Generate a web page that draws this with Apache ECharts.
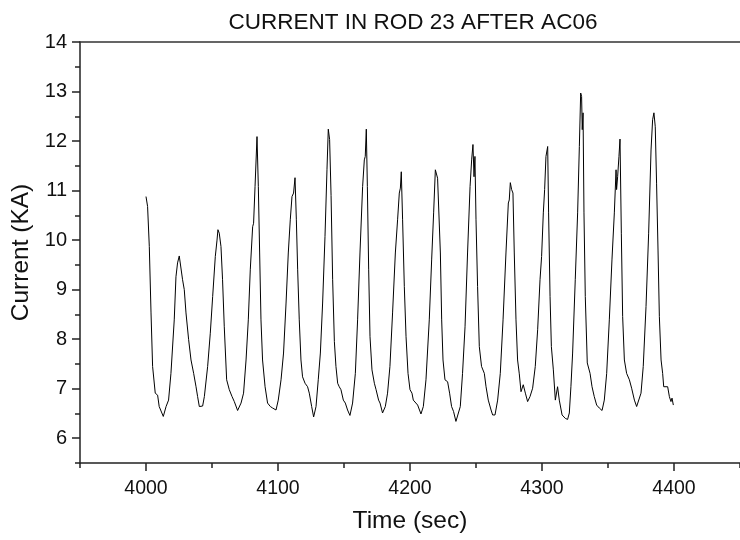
<!DOCTYPE html>
<html>
<head>
<meta charset="utf-8">
<script src="https://cdn.jsdelivr.net/npm/echarts@6/dist/echarts.min.js"></script>
<style>
  html, body { margin: 0; padding: 0; background: #fff; }
  #main { width: 740px; height: 540px; }
</style>
</head>
<body>
<div id="main"></div>
<script>
// time in seconds
const timeSec = [
  4000, 4001.2, 4002.5, 4003.8, 4005, 4007, 4008.8, 4010, 4013.1, 4015.2,
  4017.1, 4018.9, 4021.4, 4022.7, 4023.9, 4025.2, 4026.5, 4027.7, 4029, 4030.3,
  4032.3, 4034.1, 4036.1, 4037.9, 4039.1, 4040.4, 4042.9, 4044.2, 4046.7, 4048.7,
  4050.5, 4052.5, 4053.8, 4054.5, 4055.5, 4056.8, 4058, 4059.3, 4061.1, 4063.1,
  4065.2, 4066.9, 4069.4, 4072, 4073.9, 4075.8, 4077.5, 4079, 4080.8, 4081.5,
  4082.6, 4084.1, 4085.1, 4086.1, 4087.1, 4088.3, 4090.2, 4092.1, 4094.2, 4095.9,
  4098.5, 4100.2, 4102.3, 4104.2, 4106.1, 4107.8, 4109.3, 4110.6, 4111.8, 4112.9,
  4113.9, 4114.9, 4116.1, 4117.4, 4118.6, 4120.5, 4122.4, 4123.7, 4125.5, 4127,
  4128.8, 4130.5, 4132.1, 4133.8, 4135.6, 4137.1, 4138.1, 4139.1, 4140.2, 4141.4,
  4142.7, 4143.9, 4145.2, 4146.4, 4147.7, 4149.5, 4151, 4152.7, 4154.5, 4156.5,
  4158.6, 4160.3, 4162.1, 4164.1, 4165.4, 4166.1, 4166.9, 4167.7, 4168.7, 4169.7,
  4171.2, 4173, 4174.3, 4176.2, 4177.3, 4179.2, 4181.3, 4183, 4184.8, 4186.8,
  4188.9, 4190.6, 4191.9, 4192.7, 4193.4, 4194.4, 4195.7, 4197, 4198.5, 4200,
  4201.5, 4202.5, 4204, 4205.8, 4208.3, 4210.1, 4212.1, 4214.6, 4216.4, 4217.9,
  4219.2, 4219.9, 4220.9, 4222.2, 4223, 4224, 4225, 4226.5, 4228.5, 4230,
  4231.5, 4233, 4234.8, 4236.1, 4238.1, 4239.8, 4241.7, 4243.6, 4245.5, 4246.7,
  4247.7, 4248.5, 4249.2, 4250, 4251.2, 4252.5, 4254.2, 4256.3, 4257.6, 4259.3,
  4261.4, 4262.6, 4264.4, 4266.4, 4268.4, 4270.5, 4272.7, 4274.5, 4275.2, 4276,
  4277, 4278, 4279, 4280.3, 4281.5, 4282.8, 4284.1, 4285.8, 4287.4, 4289.1,
  4290.9, 4292.9, 4294.9, 4296.7, 4298.5, 4299.7, 4301, 4302, 4303, 4304.3,
  4305, 4306.1, 4307.1, 4308.6, 4310.1, 4311.8, 4313.1, 4315.2, 4317.7, 4319.4,
  4320.7, 4321.9, 4323.2, 4325.2, 4327, 4328.3, 4329.3, 4330, 4330.5, 4331.1,
  4331.8, 4332.8, 4334.3, 4336.4, 4337.9, 4339.6, 4341.4, 4343.4, 4345.5, 4347.2,
  4349, 4351, 4353, 4354.8, 4356.1, 4356.5, 4357.3, 4358.3, 4359.1, 4360.1,
  4361.1, 4362.4, 4364.1, 4366.2, 4367.9, 4370, 4371.7, 4373.2, 4375, 4376.7,
  4378.8, 4380.8, 4382.6, 4383.8, 4384.8, 4385.8, 4386.8, 4387.9, 4388.9, 4390.2,
  4391.4, 4392.2, 4393.4, 4395.2, 4396.5, 4397.7, 4398.5, 4399.5
];

// current in KA
const currentKA = [
  10.88, 10.68, 9.87, 8.53, 7.45, 6.91, 6.87, 6.64, 6.44, 6.64,
  6.77, 7.31, 8.39, 9.26, 9.54, 9.68, 9.67, 9.2, 9.0, 8.53,
  7.99, 7.58, 7.31, 7.04, 6.84, 6.64, 6.65, 6.84, 7.45, 8.12,
  8.86, 9.67, 10.0, 10.21, 10.14, 9.87, 9.2, 8.25, 7.18, 6.98,
  6.84, 6.74, 6.56, 6.71, 6.91, 7.58, 8.39, 9.4, 10.27, 10.34,
  11.08, 12.09, 11.08, 9.74, 8.39, 7.58, 7.04, 6.71, 6.64, 6.61,
  6.57, 6.77, 7.18, 7.72, 8.73, 9.74, 10.41, 10.88, 10.95, 11.26,
  10.41, 9.4, 8.39, 7.58, 7.24, 7.11, 7.04, 6.91, 6.64, 6.43,
  6.64, 7.18, 7.72, 8.73, 10.07, 11.42, 12.24, 12.03, 10.9, 9.2,
  7.95, 7.45, 7.11, 7.04, 6.98, 6.77, 6.71, 6.57, 6.46, 6.71,
  7.31, 8.39, 9.74, 11.08, 11.62, 11.69, 12.24, 11.08, 9.4, 8.05,
  7.38, 7.11, 6.98, 6.77, 6.71, 6.51, 6.64, 6.91, 7.45, 8.53,
  9.74, 10.41, 10.95, 11.05, 11.38, 10.41, 9.06, 8.05, 7.31, 6.98,
  6.91, 6.77, 6.81, 6.67, 6.49, 6.64, 7.18, 8.39, 9.6, 10.55,
  11.42, 11.45, 11.25, 11.25, 9.74, 8.39, 7.58, 7.18, 7.14, 6.91,
  6.64, 6.54, 6.34, 6.37, 6.64, 7.31, 8.25, 9.74, 11.08, 11.62,
  11.93, 11.28, 11.69, 10.41, 9.06, 7.85, 7.45, 7.31, 7.04, 6.77,
  6.57, 6.47, 6.47, 6.77, 7.31, 8.39, 9.74, 10.75, 10.81, 11.16,
  11.02, 10.95, 9.74, 8.39, 7.58, 7.3, 6.94, 7.08, 6.91, 6.74,
  6.84, 7.01, 7.45, 8.19, 9.2, 9.67, 10.55, 11.02, 11.69, 11.89,
  10.55, 8.86, 7.85, 7.38, 6.77, 7.04, 6.77, 6.47, 6.4, 6.38,
  6.51, 7.04, 7.72, 9.2, 10.55, 11.89, 12.97, 12.9, 12.23, 12.57,
  10.55, 8.86, 7.52, 7.31, 7.04, 6.84, 6.67, 6.61, 6.56, 6.77,
  7.31, 8.39, 9.6, 10.55, 11.42, 11.02, 11.28, 11.69, 12.04, 10.14,
  8.46, 7.58, 7.31, 7.18, 7.01, 6.77, 6.64, 6.61, 6.91, 7.45,
  8.66, 10.14, 11.82, 12.43, 12.57, 12.29, 11.15, 9.8, 8.46, 7.58,
  7.31, 7.04, 7.08, 7.04, 6.84, 6.74, 6.81, 6.67
];

const xTicks = [4000, 4100, 4200, 4300, 4400];
const xMinorTicks = [3950, 4050, 4150, 4250, 4350, 4450];
const yTicks = [6, 7, 8, 9, 10, 11, 12, 13, 14];
const yMinorTicks = [5.5, 6.5, 7.5, 8.5, 9.5, 10.5, 11.5, 12.5, 13.5];

const n = Math.min(timeSec.length, currentKA.length);
const points = [];
for (let i = 0; i < n; i++) {
  points.push([timeSec[i], currentKA[i]]);
}

const font = 'Liberation Sans, Arial, sans-serif';
const axisColor = '#222';

const chart = echarts.init(document.getElementById('main'), null, { renderer: 'canvas' });

const option = {
  animation: false,
  backgroundColor: '#fff',
  title: {
    text: 'CURRENT IN ROD 23 AFTER AC06',
    left: 408,
    top: 6,
    textAlign: 'center',
    textStyle: {
      fontFamily: font,
      fontSize: 22.5,
      fontWeight: 'normal',
      color: '#111',
    },
  },
  grid: {
    left: 80,
    right: 0,
    top: 42,
    bottom: 77,
  },
  xAxis: [
    {
      type: 'value',
      position: 'bottom',
      min: 3950,
      max: 4450,
      name: 'Time (sec)',
      nameLocation: 'middle',
      nameGap: 46,
      nameTextStyle: { fontFamily: font, fontSize: 24.5, color: '#111' },
      axisLine: { onZero: false, lineStyle: { color: axisColor, width: 1.5 } },
      axisTick: { customValues: xTicks, length: 8, lineStyle: { color: axisColor, width: 1.5 } },
      axisLabel: {
        customValues: xTicks,
        formatter: (v) => String(v),
        margin: 16,
        fontFamily: font,
        fontSize: 19.5,
        color: '#111',
      },
      splitLine: { show: false },
    },
    {
      type: 'value',
      position: 'bottom',
      min: 3950,
      max: 4450,
      axisLine: { show: false, onZero: false },
      axisTick: { customValues: xMinorTicks, length: 5, lineStyle: { color: axisColor, width: 1.5 } },
      axisLabel: { show: false },
      splitLine: { show: false },
    },
    {
      type: 'value',
      position: 'top',
      min: 3950,
      max: 4450,
      axisLine: { onZero: false, lineStyle: { color: '#333', width: 1.5 } },
      axisTick: { show: false },
      axisLabel: { show: false },
      splitLine: { show: false },
    },
  ],
  yAxis: [
    {
      type: 'value',
      position: 'left',
      min: 5.5,
      max: 14,
      name: 'Current (KA)',
      nameLocation: 'middle',
      nameGap: 44,
      nameTextStyle: { fontFamily: font, fontSize: 24.5, color: '#111' },
      axisLine: { show: true, onZero: false, lineStyle: { color: axisColor, width: 1.5 } },
      axisTick: { show: true, customValues: yTicks, length: 8, lineStyle: { color: axisColor, width: 1.5 } },
      axisLabel: {
        customValues: yTicks,
        formatter: (v) => String(v),
        margin: 13,
        fontFamily: font,
        fontSize: 20,
        color: '#111',
      },
      splitLine: { show: false },
    },
    {
      type: 'value',
      position: 'left',
      min: 5.5,
      max: 14,
      axisLine: { show: false, onZero: false },
      axisTick: { show: true, customValues: yMinorTicks, length: 5, lineStyle: { color: axisColor, width: 1.5 } },
      axisLabel: { show: false },
      splitLine: { show: false },
    },
  ],
  series: [
    {
      type: 'line',
      xAxisIndex: 0,
      yAxisIndex: 0,
      data: points,
      showSymbol: false,
      symbol: 'none',
      lineStyle: { color: '#000', width: 1 },
    },
  ],
};

chart.setOption(option);
</script>
</body>
</html>
